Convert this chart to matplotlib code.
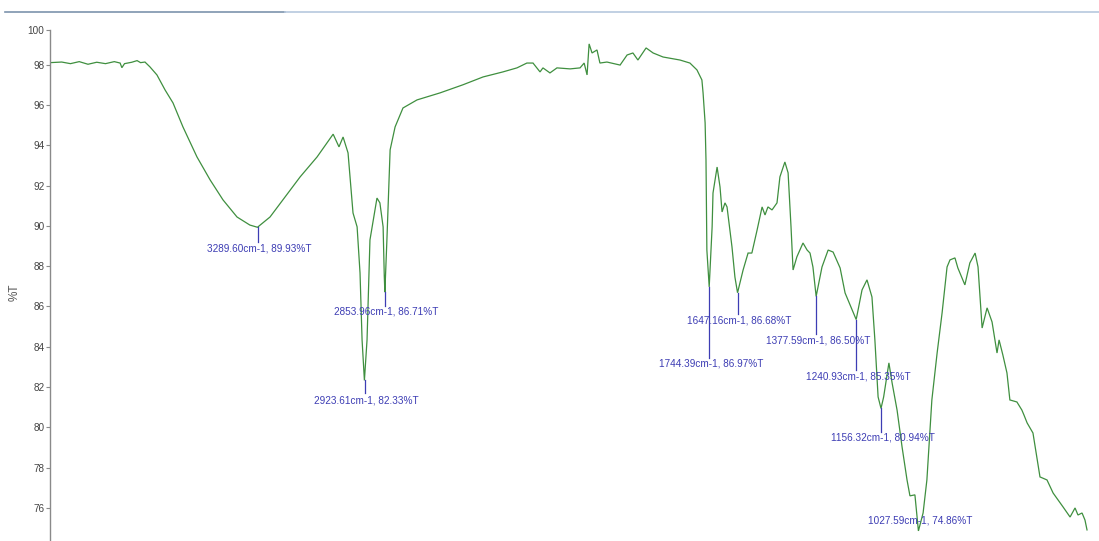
import matplotlib
matplotlib.use("Agg")
import matplotlib.pyplot as plt
from matplotlib.lines import Line2D

# ---------------- data (wavenumber cm-1, %T) ----------------
wavenumber = [
    4000, 3960, 3930, 3900, 3870, 3840, 3810, 3780, 3760, 3754, 3745, 3720, 3702, 3690,
    3675, 3658, 3634, 3606, 3579, 3545, 3497, 3452, 3408, 3360, 3316, 3290, 3247, 3203,
    3144, 3086, 3031, 3011, 2997, 2980, 2963, 2949, 2939, 2932, 2924, 2915, 2905, 2881,
    2871, 2860, 2856, 2854, 2847, 2836, 2819, 2792, 2744, 2665, 2587, 2518, 2450, 2402,
    2368, 2347, 2323, 2313, 2289, 2265, 2220, 2186, 2172, 2162, 2155, 2145, 2128, 2118,
    2094, 2049, 2025, 2005, 1988, 1960, 1936, 1902, 1844, 1810, 1786, 1769, 1765, 1758,
    1755, 1752, 1744, 1734, 1731, 1717, 1707, 1700, 1690, 1683, 1666, 1656, 1647, 1628,
    1611, 1598, 1580, 1563, 1553, 1543, 1529, 1512, 1502, 1485, 1474, 1464, 1457, 1444,
    1423, 1409, 1399, 1389, 1378, 1358, 1337, 1320, 1296, 1279, 1255, 1241, 1221, 1204,
    1187, 1177, 1166, 1156, 1147, 1129, 1118, 1101, 1084, 1067, 1057, 1040, 1028, 1012,
    999, 982, 964, 947, 930, 920, 903, 893, 869, 852, 834, 824, 810, 793,
    776, 759, 752, 739, 725, 715, 691, 674, 667, 656, 636, 612, 588, 567,
    533, 509, 492, 482, 468, 458, 451,
]
transmittance = [
    98.10, 98.13, 98.05, 98.15, 98.02, 98.12, 98.05, 98.15, 98.08, 97.85, 98.05, 98.12, 98.20, 98.10,
    98.13, 97.89, 97.49, 96.74, 96.10, 94.91, 93.42, 92.28, 91.29, 90.44, 90.04, 89.93, 90.44, 91.29,
    92.43, 93.42, 94.55, 93.92, 94.41, 93.62, 90.64, 89.95, 87.66, 84.34, 82.33, 84.34, 89.30, 91.38,
    91.14, 89.95, 87.50, 86.71, 89.30, 93.77, 94.91, 95.85, 96.25, 96.60, 97.00, 97.39, 97.64, 97.84,
    98.08, 98.08, 97.64, 97.84, 97.59, 97.84, 97.79, 97.84, 98.08, 97.49, 99.03, 98.58, 98.73, 98.08,
    98.13, 97.98, 98.48, 98.58, 98.23, 98.83, 98.58, 98.38, 98.23, 98.08, 97.74, 97.24, 96.60, 95.11,
    93.27, 88.80, 86.97, 89.95, 91.63, 92.92, 91.93, 90.69, 91.14, 90.94, 88.95, 87.46, 86.68, 87.81,
    88.65, 88.65, 89.80, 90.94, 90.54, 90.94, 90.79, 91.14, 92.43, 93.17, 92.63, 89.95, 87.81, 88.46,
    89.15, 88.80, 88.65, 87.96, 86.50, 87.96, 88.80, 88.70, 87.91, 86.67, 85.83, 85.35, 86.82, 87.32,
    86.47, 84.34, 81.51, 80.94, 81.51, 83.20, 82.20, 80.85, 79.03, 77.39, 76.60, 76.65, 74.86, 75.75,
    77.39, 81.36, 83.69, 85.68, 87.96, 88.31, 88.41, 87.91, 87.07, 88.16, 88.65, 87.96, 84.93, 85.93,
    85.23, 83.69, 84.34, 83.59, 82.70, 81.36, 81.26, 80.86, 80.62, 80.22, 79.72, 77.54, 77.39, 76.74,
    76.05, 75.55, 76.00, 75.65, 75.75, 75.40, 74.91,
]

peak_wn = [3289.60, 2923.61, 2853.96, 1744.39, 1647.16, 1377.59, 1240.93, 1156.32, 1027.59]
peak_T = [89.93, 82.33, 86.71, 86.97, 86.68, 86.50, 85.35, 80.94, 74.86]
peak_labels = [
    "3289.60cm-1, 89.93%T",
    "2923.61cm-1, 82.33%T",
    "2853.96cm-1, 86.71%T",
    "1744.39cm-1, 86.97%T",
    "1647.16cm-1, 86.68%T",
    "1377.59cm-1, 86.50%T",
    "1240.93cm-1, 85.35%T",
    "1156.32cm-1, 80.94%T",
    "1027.59cm-1, 74.86%T",
]
y_ticks = [76, 78, 80, 82, 84, 86, 88, 90, 92, 94, 96, 98]

# ---------------- layout / style ----------------
line_end_T = [89.20, 81.70, 86.02, 83.44, 85.63, 84.64, 82.85, 79.77, None]
label_T = [88.90, 81.35, 85.73, 83.15, 85.28, 84.29, 82.50, 79.52, 75.40]
X_LEFT, X_RIGHT = 4000, 410
Y_BOTTOM, Y_TOP = 74.36, 99.72

FONT = ["Liberation Sans Narrow", "Liberation Sans", "DejaVu Sans"]
CURVE = "#3f8f3f"
ANNOT = "#3d3db4"

fig = plt.figure(figsize=(10.99, 5.41), dpi=100, facecolor="white")
ax = fig.add_axes([50 / 1099, 0.0, 1 - 50 / 1099, 1 - 30 / 541])
ax.set_facecolor("white")

ax.plot(wavenumber, transmittance, color=CURVE, lw=0.9, solid_joinstyle="miter")

ax.set_xlim(X_LEFT, X_RIGHT)
ax.set_ylim(Y_BOTTOM, Y_TOP)

for s in ["top", "right", "bottom"]:
    ax.spines[s].set_visible(False)
ax.spines["left"].set_color("#8a8a8a")
ax.spines["left"].set_linewidth(1.0)
ax.set_xticks([])

ticks = y_ticks + [Y_TOP]
ax.set_yticks(ticks)
ax.set_yticklabels([str(t) for t in y_ticks] + ["100"])
ax.tick_params(axis="y", direction="out", length=3, width=0.8, color="#8a8a8a",
               labelcolor="#444444", labelsize=7.2, pad=1)
for lab in ax.get_yticklabels():
    lab.set_family(FONT)

ax.set_ylabel("%T", family=FONT, fontsize=8.5, color="#555555")
ax.yaxis.set_label_coords(-29 / 1049, (541 - 292) / 511)

for wn, T, lbl, le, lt in zip(peak_wn, peak_T, peak_labels, line_end_T, label_T):
    if le is not None:
        ax.plot([wn, wn], [T, le], color=ANNOT, lw=0.9)
    ax.text(wn - 6, lt, lbl, ha="center", va="center", family=FONT,
            fontsize=7.2, color=ANNOT)

# window border line at top
fig.add_artist(Line2D([5 / 1099, 285 / 1099], [1 - 12 / 541] * 2, color="#7d93ad", lw=1.2))
fig.add_artist(Line2D([285 / 1099, 1.0], [1 - 12 / 541] * 2, color="#b6c8de", lw=1.2))

fig.savefig("out.png", dpi=100, facecolor="white")
